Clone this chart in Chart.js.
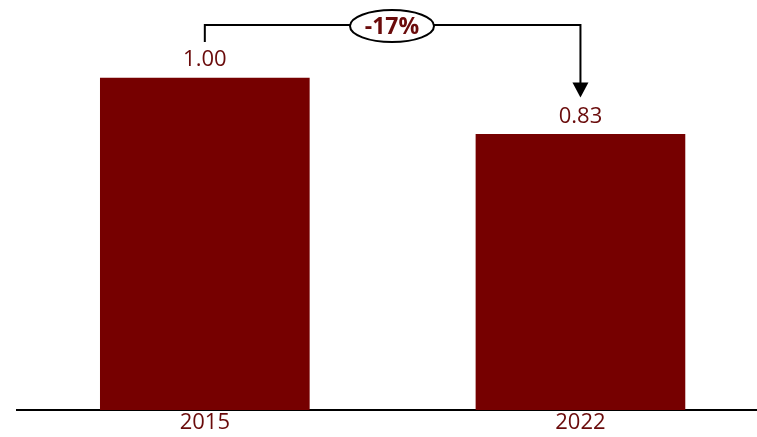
<!DOCTYPE html>
<html>
<head>
<meta charset="utf-8">
<script src="https://cdn.jsdelivr.net/npm/chart.js@4/dist/chart.umd.min.js"></script>
<style>
  html, body { margin: 0; padding: 0; background: #ffffff; }
  #wrap { width: 757px; height: 437px; }
</style>
</head>
<body>
<div id="wrap"><canvas id="c" width="757" height="437"></canvas></div>
<script>
// Relative index, 2015 = 1.00
const years = ['2015', '2022'];
const indexValues = [1.00, 0.83];

const BAR_COLOR = '#760000';
const TEXT_COLOR = '#6a0b0b';
const FONT = '"Open Sans", "Liberation Sans", sans-serif';

// Value labels above each bar
const valueLabels = {
  id: 'valueLabels',
  afterDatasetsDraw(chart) {
    const { ctx } = chart;
    const meta = chart.getDatasetMeta(0);
    ctx.save();
    ctx.fillStyle = TEXT_COLOR;
    ctx.font = '22px ' + FONT;
    ctx.textAlign = 'center';
    ctx.textBaseline = 'middle';
    meta.data.forEach((bar, i) => {
      ctx.fillText(indexValues[i].toFixed(2), bar.x, bar.y - 18);
    });
    ctx.restore();
  }
};

// Change bracket from the first bar to the last, with the percent change in an oval
const changeBracket = {
  id: 'changeBracket',
  afterDatasetsDraw(chart) {
    const { ctx } = chart;
    const meta = chart.getDatasetMeta(0);
    const a = meta.data[0], b = meta.data[meta.data.length - 1];
    const x1 = a.x, x2 = b.x;
    const yStart = a.y - 36;
    const yTop = a.y - 53;
    const yTip = b.y - 37;
    ctx.save();
    ctx.strokeStyle = '#000';
    ctx.fillStyle = '#000';
    ctx.lineWidth = 2;
    ctx.beginPath();
    ctx.moveTo(x1, yStart);
    ctx.lineTo(x1, yTop);
    ctx.lineTo(x2, yTop);
    ctx.lineTo(x2, yTip - 14);
    ctx.stroke();
    ctx.beginPath();
    ctx.moveTo(x2 - 8, yTip - 15);
    ctx.lineTo(x2 + 8, yTip - 15);
    ctx.lineTo(x2, yTip);
    ctx.closePath();
    ctx.fill();

    const pct = Math.round((indexValues[indexValues.length - 1] / indexValues[0] - 1) * 100);
    const cx = 392, cy = yTop + 1;
    ctx.beginPath();
    ctx.ellipse(cx, cy, 42, 16, 0, 0, Math.PI * 2);
    ctx.fillStyle = '#fff';
    ctx.fill();
    ctx.lineWidth = 2;
    ctx.stroke();
    ctx.fillStyle = TEXT_COLOR;
    ctx.font = 'bold 23px ' + FONT;
    ctx.textAlign = 'center';
    ctx.textBaseline = 'middle';
    ctx.fillText((pct > 0 ? '+' : '') + pct + '%', cx, cy + 1);
    ctx.restore();
  }
};

new Chart(document.getElementById('c'), {
  type: 'bar',
  data: {
    datasets: [{
      data: indexValues.map((v, i) => ({ x: i, y: v })),
      backgroundColor: BAR_COLOR,
      barThickness: 209
    }]
  },
  options: {
    responsive: false,
    animation: false,
    layout: { padding: { left: 17, right: 0, top: 0, bottom: 0 } },
    plugins: { legend: { display: false }, tooltip: { enabled: false } },
    scales: {
      x: {
        type: 'linear',
        offset: false,
        min: -0.5,
        max: 1.47,
        grid: { display: false, drawTicks: false },
        border: { display: true, color: '#000', width: 2 },
        afterBuildTicks(scale) {
          scale.ticks = years.map((_, i) => ({ value: i }));
        },
        afterFit(scale) { scale.height = 27; },
        ticks: {
          autoSkip: false,
          maxRotation: 0,
          padding: 1,
          color: TEXT_COLOR,
          font: { family: FONT, size: 22, lineHeight: 1.1 },
          callback: (v) => years[v]
        }
      },
      y: {
        display: false,
        min: 0,
        max: 1.235
      }
    }
  },
  plugins: [valueLabels, changeBracket]
});
</script>
</body>
</html>
